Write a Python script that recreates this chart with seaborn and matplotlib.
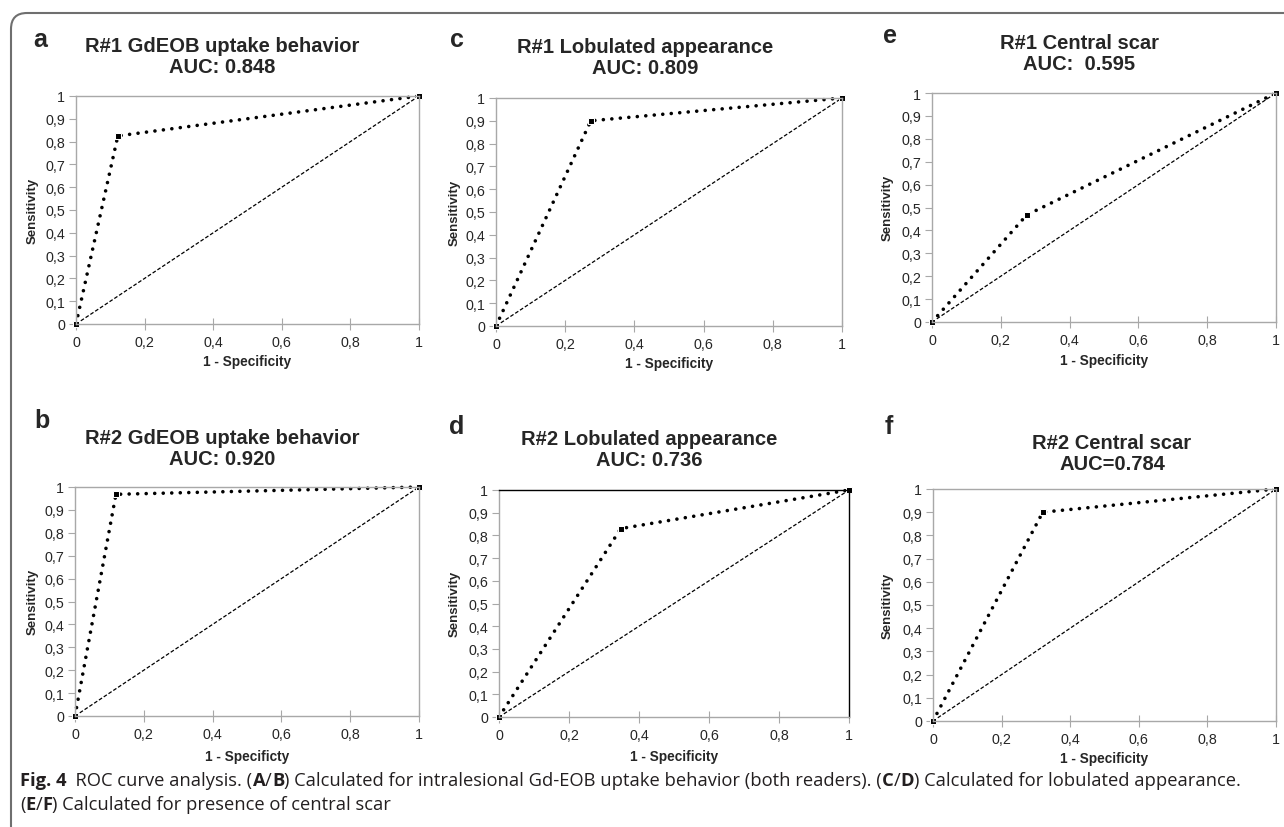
import matplotlib
matplotlib.use("Agg")
import matplotlib.pyplot as plt
import seaborn as sns
from matplotlib.patches import FancyBboxPatch
from matplotlib.transforms import IdentityTransform
from matplotlib.ticker import FuncFormatter

W, H = 1284, 828

# ROC data per panel (order: a, c, e, b, d, f)
panel_letters = ["a", "c", "e", "b", "d", "f"]
titles = [
    "R#1 GdEOB uptake behavior\nAUC: 0.848",
    "R#1 Lobulated appearance\nAUC: 0.809",
    "R#1 Central scar\nAUC:  0.595",
    "R#2 GdEOB uptake behavior\nAUC: 0.920",
    "R#2 Lobulated appearance\nAUC: 0.736",
    "R#2 Central scar\nAUC=0.784",
]
fpr = [
    [0, 0.122, 1],
    [0, 0.274, 1],
    [0, 0.275, 1],
    [0, 0.119, 1],
    [0, 0.348, 1],
    [0, 0.320, 1],
]
tpr = [
    [0, 0.825, 1],
    [0, 0.900, 1],
    [0, 0.467, 1],
    [0, 0.968, 1],
    [0, 0.830, 1],
    [0, 0.900, 1],
]
ref_x = [0, 1]
ref_y = [0, 1]
xlabels = ["1 - Specificity", "1 - Specificity", "1 - Specificity",
           "1 - Specificty", "1 - Specificity", "1 - Specificity"]
ylabel = "Sensitivity"
yticks = [0, 0.1, 0.2, 0.3, 0.4, 0.5, 0.6, 0.7, 0.8, 0.9, 1]
xticks = [0, 0.2, 0.4, 0.6, 0.8, 1]

# layout in pixels: axes box (left, right, top, bottom)
boxes = [(76, 419, 97, 325), (496, 842, 99, 327), (932, 1276, 94, 323),
         (75, 419, 488, 717), (499, 849, 491, 718), (933, 1276, 490, 722)]
title_pos = [(222, 57), (645, 58), (1079, 54), (222, 449), (649, 450), (1112, 454)]
letter_pos = [(40, 40), (457, 40), (890, 36), (42, 421), (457, 427), (889, 427)]
ylab_pos = [(33, 211), (455, 213), (888, 208), (33, 602), (455, 604), (888, 606)]
xlab_pos = [(247, 362), (669, 364), (1104, 361), (247, 757), (674, 757), (1104, 759)]

sns.set_style("white")
plt.rcParams["font.family"] = ["Liberation Sans", "DejaVu Sans"]

fig = plt.figure(figsize=(W / 100, H / 100), dpi=100)


def fx(x):
    return x / W


def fy(y):
    return 1 - y / H


def comma_fmt(v, pos):
    if abs(v) < 1e-9:
        return "0"
    if abs(v - 1) < 1e-9:
        return "1"
    return f"{v:.1f}".replace(".", ",")


grey = "#a8a8a8"
for i in range(6):
    l, r, t, b = boxes[i]
    ax = fig.add_axes([fx(l), fy(b), (r - l) / W, (b - t) / H])
    sns.lineplot(x=ref_x, y=ref_y, ax=ax, color="black", linewidth=0.9,
                 linestyle=(0, (3, 1.6)), sort=False)
    sns.lineplot(x=fpr[i], y=tpr[i], ax=ax, color="black", linewidth=2.6,
                 linestyle=(0, (0.01, 2.35)), dash_capstyle="round",
                 marker="s", markersize=5, sort=False, clip_on=False)
    ax.set_xlim(0, 1)
    ax.set_ylim(0, 1)
    ax.set_xticks(xticks)
    ax.set_yticks(yticks)
    ax.xaxis.set_major_formatter(FuncFormatter(comma_fmt))
    ax.yaxis.set_major_formatter(FuncFormatter(comma_fmt))
    ax.tick_params(axis="y", direction="out", length=5, width=0.8, color=grey,
                   labelsize=10.3, pad=3, left=True)
    ax.tick_params(axis="x", direction="inout", length=8, width=0.8, color=grey,
                   labelsize=10.3, pad=4, bottom=True)
    for s in ax.spines.values():
        s.set_color(grey)
        s.set_linewidth(1.0)
        s.set_visible(True)
    if panel_letters[i] == "d":
        ax.spines["top"].set_color("black")
        ax.spines["right"].set_color("black")
    ax.set_xlabel(xlabels[i], fontsize=9.8, fontweight="bold")
    ax.set_ylabel(ylabel, fontsize=9.5, fontweight="bold")
    ax.xaxis.set_label_coords(fx(xlab_pos[i][0]), fy(xlab_pos[i][1]),
                              transform=fig.transFigure)
    ax.xaxis.label.set_va("center")
    ax.yaxis.set_label_coords(fx(ylab_pos[i][0]), fy(ylab_pos[i][1]),
                              transform=fig.transFigure)
    ax.yaxis.label.set_va("center")
    fig.text(fx(title_pos[i][0]), fy(title_pos[i][1]), titles[i], ha="center",
             va="center", fontsize=14.5, fontweight="bold", linespacing=1.1)
    fig.text(fx(letter_pos[i][0]), fy(letter_pos[i][1]), panel_letters[i],
             ha="center", va="center", fontsize=18, fontweight="bold")

# outer rounded frame
frame = FancyBboxPatch((11, -30), 1320, 844, boxstyle="round,pad=0,rounding_size=16",
                       transform=IdentityTransform(), facecolor="none",
                       edgecolor="#6f6f6f", linewidth=1.5)
fig.patches.append(frame)

# caption with mixed bold runs
renderer = fig.canvas.get_renderer()
cap_font = ["Open Sans", "DejaVu Sans"]
cap_size = 13.2
cap_color = "#231f20"
line1 = [("Fig. 4", "bold"), ("  ROC curve analysis. (", "normal"), ("A", "bold"), ("/", "normal"),
         ("B", "bold"), (") Calculated for intralesional Gd-EOB uptake behavior (both readers). (", "normal"),
         ("C", "bold"), ("/", "normal"), ("D", "bold"), (") Calculated for lobulated appearance.", "normal")]
line2 = [("(", "normal"), ("E", "bold"), ("/", "normal"), ("F", "bold"),
         (") Calculated for presence of central scar", "normal")]


def draw_runs(runs, x, y):
    for txt, wt in runs:
        t = fig.text(fx(x), fy(y), txt, ha="left", va="baseline", fontsize=cap_size,
                     fontweight=wt, family=cap_font, color=cap_color)
        bb = t.get_window_extent(renderer)
        x = bb.x1


draw_runs(line1, 20, 786)
draw_runs(line2, 20, 810)

fig.savefig("out.png", dpi=100)
